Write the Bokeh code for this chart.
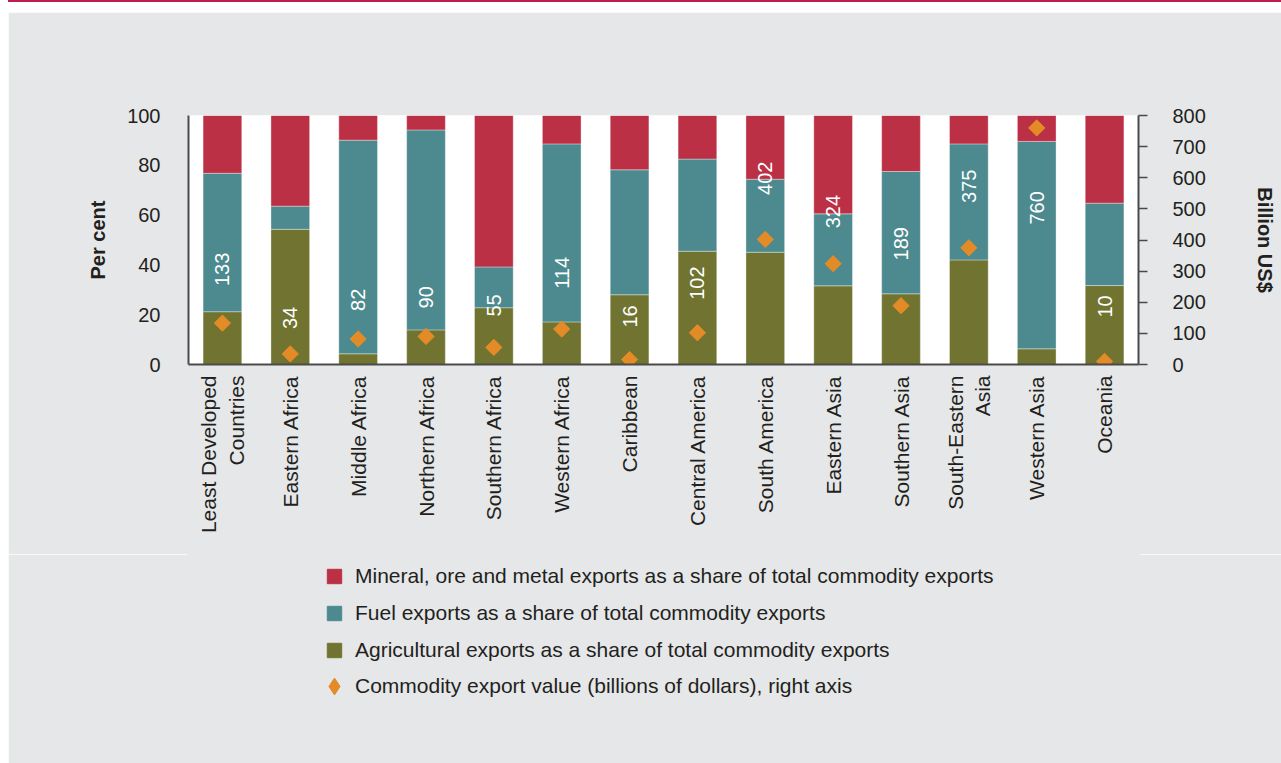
from math import pi
from bokeh.plotting import figure
from bokeh.layouts import column
from bokeh.models import (Range1d, LinearAxis, FactorRange, Legend, LegendItem,
                          ColumnDataSource, FixedTicker, Div)
from bokeh.core.properties import value
from bokeh.embed import file_html
from bokeh.resources import INLINE

# ---------------- data ----------------
categories = ["Least Developed\nCountries", "Eastern Africa", "Middle Africa",
              "Northern Africa", "Southern Africa", "Western Africa", "Caribbean",
              "Central America", "South America", "Eastern Asia", "Southern Asia",
              "South-Eastern\nAsia", "Western Asia", "Oceania"]
agricultural = [21.2, 54.3, 4.3, 13.9, 22.8, 17.1, 28.0, 45.5, 45.1, 31.6, 28.4, 42.0, 6.3, 31.7]
fuel = [55.6, 9.3, 85.8, 80.3, 16.4, 71.5, 50.2, 37.0, 29.3, 28.9, 49.1, 46.6, 83.3, 33.1]
mineral = [23.2, 36.4, 9.9, 5.8, 60.8, 11.4, 21.8, 17.5, 25.6, 39.5, 22.5, 11.4, 10.4, 35.2]
export_value = [133, 34, 82, 90, 55, 114, 16, 102, 402, 324, 189, 375, 760, 10]
label_pos = [38.2, 18.7, 26.0, 27.0, 23.7, 36.8, 19.3, 32.7, 74.8, 61.4, 48.5, 71.6, 62.9, 23.3]
left_ticks = [0, 20, 40, 60, 80, 100]
right_ticks = [0, 100, 200, 300, 400, 500, 600, 700, 800]

legend_labels = ["Mineral, ore and metal exports as a share of total commodity exports",
                 "Fuel exports as a share of total commodity exports",
                 "Agricultural exports as a share of total commodity exports",
                 "Commodity export value (billions of dollars), right axis"]

# ---------------- style ----------------
RED = "#bc3046"
TEAL = "#4c8a8f"
OLIVE = "#707430"
ORANGE = "#e38b27"
BG = "#e6e7e8"
TXT = "#231f20"
AXIS = "#4a4a4a"
RULE = "#be1e4f"
FONT = "Liberation Sans"

source = ColumnDataSource(dict(cat=categories, agri=agricultural, fuel=fuel,
                               mineral=mineral, val=export_value,
                               lpos=label_pos, ltxt=[str(v) for v in export_value]))

p = figure(x_range=FactorRange(factors=categories), y_range=Range1d(0, 100),
           frame_width=950, frame_height=249,
           min_border_left=180, min_border_right=143,
           min_border_top=103, min_border_bottom=190,
           output_backend="svg", toolbar_location=None,
           background_fill_color="white", border_fill_color=BG,
           outline_line_color=None)
p.margin = (10, 0, 0, 8)
p.xgrid.visible = False
p.ygrid.visible = False

bars = p.vbar_stack(["agri", "fuel", "mineral"], x="cat", width=0.57, source=source,
                    color=[OLIVE, TEAL, RED], line_color="white", line_alpha=0.35,
                    line_width=1)

p.text(x="cat", y="lpos", text="ltxt", source=source, angle=pi/2,
       text_align="center", text_baseline="middle", text_color="white",
       text_font=value(FONT), text_font_size="20px")

p.extra_y_ranges = {"right": Range1d(0, 800)}
diam = p.scatter(x="cat", y="val", source=source, y_range_name="right",
                 marker="square", angle=pi/4, size=11.5, color=ORANGE)

# left axis
ly = p.yaxis[0]
ly.ticker = FixedTicker(ticks=left_ticks)
ly.axis_label = "Per cent"
ly.axis_label_text_font_style = "bold"
ly.axis_label_text_font = FONT
ly.axis_label_text_font_size = "20px"
ly.axis_label_text_color = TXT
ly.axis_label_standoff = 15
ly.major_label_text_font = FONT
ly.major_label_text_font_size = "20px"
ly.major_label_text_color = TXT
ly.major_label_standoff = 22
ly.major_tick_line_color = None
ly.minor_tick_line_color = None
ly.axis_line_color = AXIS
ly.axis_line_width = 2

# right axis
ry = LinearAxis(y_range_name="right", ticker=FixedTicker(ticks=right_ticks))
ry.axis_label = "Billion US$"
ry.axis_label_text_font_style = "bold"
ry.axis_label_text_font = FONT
ry.axis_label_text_font_size = "20px"
ry.axis_label_text_color = TXT
ry.axis_label_standoff = 45
ry.major_label_text_font = FONT
ry.major_label_text_font_size = "20px"
ry.major_label_text_color = TXT
ry.major_label_standoff = 25
ry.major_tick_out = 9
ry.major_tick_in = 0
ry.major_tick_line_color = AXIS
ry.major_tick_line_width = 1.5
ry.minor_tick_line_color = None
ry.axis_line_color = AXIS
ry.axis_line_width = 2
p.add_layout(ry, "right")

# x axis
xa = p.xaxis[0]
xa.major_label_orientation = pi/2
xa.major_label_text_font = FONT
xa.major_label_text_font_size = "21px"
xa.major_label_text_color = TXT
xa.major_label_standoff = 5
xa.major_tick_line_color = None
xa.axis_line_color = AXIS
xa.axis_line_width = 2

# ---------------- legend panel ----------------
q = figure(width=1273, height=209, x_range=Range1d(0, 1), y_range=Range1d(0, 1),
           min_border=0, output_backend="svg", toolbar_location=None,
           background_fill_color=BG, border_fill_color=BG,
           outline_line_color=BG, outline_line_width=3)
q.margin = (0, 0, 0, 8)
q.axis.visible = False
q.grid.visible = False
# legend swatches only: NaN points are never drawn in the panel itself
hidden = ColumnDataSource(dict(x=[float("nan")], y=[float("nan")]))
g_min = q.scatter(x="x", y="y", source=hidden, marker="square", color=RED)
g_fuel = q.scatter(x="x", y="y", source=hidden, marker="square", color=TEAL)
g_agri = q.scatter(x="x", y="y", source=hidden, marker="square", color=OLIVE)
g_val = q.scatter(x="x", y="y", source=hidden, marker="diamond", color=ORANGE)

common = dict(orientation="vertical", background_fill_alpha=0, border_line_color=None,
              padding=0, margin=0, label_text_font=FONT, label_text_font_size="21px",
              label_text_color=TXT)

legend_bars = Legend(items=[LegendItem(label=legend_labels[0], renderers=[g_min]),
                            LegendItem(label=legend_labels[1], renderers=[g_fuel]),
                            LegendItem(label=legend_labels[2], renderers=[g_agri])],
                     location=(128, 95), glyph_width=36, glyph_height=36,
                     label_standoff=3, spacing=1, **common)
legend_val = Legend(items=[LegendItem(label=legend_labels[3], renderers=[g_val])],
                    location=(125, 56), glyph_width=42, glyph_height=42,
                    label_standoff=0, spacing=0, **common)
q.add_layout(legend_bars)
q.add_layout(legend_val)

rule = Div(text="", width=1273, height=2, margin=(0, 0, 0, 8),
           styles={"background-color": RULE})

layout = column(rule, p, q, spacing=0)
open("out.html", "w").write(file_html(layout, INLINE))
